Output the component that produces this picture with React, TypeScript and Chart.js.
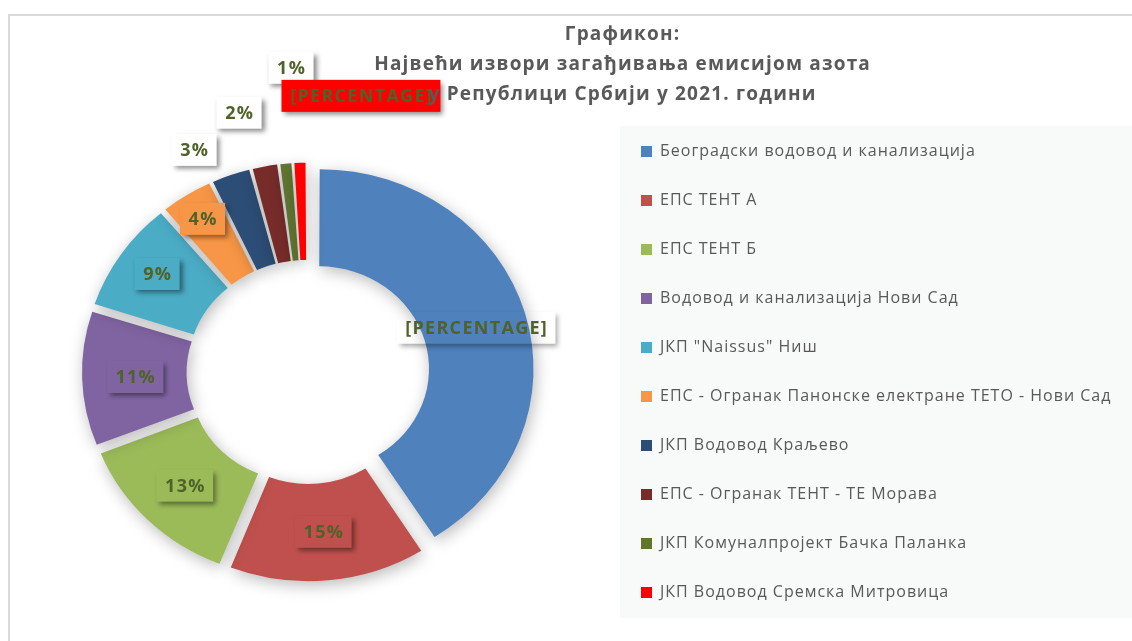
import React, { useEffect, useRef } from 'react';
import { Chart, registerables } from 'chart.js';

Chart.register(...registerables);

// ---- data ----
const CATEGORIES = [
  'Београдски водовод и канализација',
  'ЕПС ТЕНТ А',
  'ЕПС ТЕНТ Б',
  'Водовод и канализација Нови Сад',
  'ЈКП "Naissus" Ниш',
  'ЕПС - Огранак Панонске електране ТЕТО - Нови Сад',
  'ЈКП Водовод Краљево',
  'ЕПС - Огранак ТЕНТ - ТЕ Морава',
  'ЈКП Комуналпројект Бачка Паланка',
  'ЈКП Водовод Сремска Митровица',
];
const SHARES = [41, 15, 13, 11, 9, 4, 3, 2, 1, 1];
const LABEL_OVERRIDES: (string | null)[] = ['[PERCENTAGE]', null, null, null, null, null, null, null, null, '[PERCENTAGE]'];
const TITLE_LINES = ['Графикон:', 'Највећи извори загађивања емисијом азота', 'у Републици Србији у 2021. години'];

// ---- styles ----
const COLORS = ['#4F81BD', '#C0504D', '#9BBB59', '#8064A2', '#4BACC6', '#F79646', '#2C4D75', '#772C2A', '#5F7530', '#FF0000'];
const LABEL_BOX = ['clear', 'slice', 'slice', 'slice', 'slice', 'slice', 'white', 'white', 'white', 'slice'];
const LABEL_RADIUS = [0.84, 0.826, 0.827, 0.823, 0.877, 0.933, 1.264, 1.373, 1.567, 1.444];
const LABEL_NUDGE_DEG = [0.5, 0, 0, 0, 0.9, 0, -5.5, -2.9, 2.6, 12.1];
const EXPLODE = [18, 16, 16, 16, 16, 16, 16, 16, 16, 16];
const SQUASH = 0.93;
const TEXT_GREEN = '#4F6228';
const GREY = '#595959';
const W = 1132;
const H = 641;
const LEGEND_LEFT = 608;
const LEGEND_SPACING = '1px';

const total = SHARES.reduce((a, b) => a + b, 0);

function explodeOffset(i: number) {
  const circ = (SHARES[i] / total) * Math.PI * 2;
  const f = (2 - Math.sin(Math.min(Math.PI, circ))) / 4;
  return EXPLODE[i] / f;
}

const doughnutLook = {
  id: 'doughnutLook',
  beforeLayout(chart: any) {
    chart.ctx.letterSpacing = LEGEND_SPACING;
  },
  afterLayout(chart: any) {
    chart.ctx.letterSpacing = '0px';
  },
  beforeDraw(chart: any) {
    const ctx = chart.ctx;
    ctx.save();
    ctx.fillStyle = '#F8F9F9';
    ctx.fillRect(620, 126, W - 620, 492);
    ctx.restore();
    ctx.letterSpacing = LEGEND_SPACING;
  },
  beforeDatasetsDraw(chart: any) {
    const ctx = chart.ctx;
    ctx.letterSpacing = '0px';
    const a = chart.chartArea;
    const cx = (a.left + a.right) / 2;
    const cy = (a.top + a.bottom) / 2;
    ctx.save();
    ctx.translate(cx, cy);
    ctx.scale(1, SQUASH);
    ctx.translate(-cx, -cy);
    ctx.shadowColor = 'rgba(0,0,0,0.28)';
    ctx.shadowBlur = 16;
    ctx.shadowOffsetX = 2;
    ctx.shadowOffsetY = 4;
  },
  afterDatasetsDraw(chart: any) {
    const ctx = chart.ctx;
    ctx.restore();
    const meta = chart.getDatasetMeta(0);
    meta.data.forEach((arc: any, i: number) => {
      const p = arc.getProps(['x', 'y', 'startAngle', 'endAngle', 'outerRadius'], true);
      const mid = (p.startAngle + p.endAngle) / 2 + (LABEL_NUDGE_DEG[i] * Math.PI) / 180;
      const r = LABEL_RADIUS[i] * p.outerRadius;
      const lx = p.x + r * Math.cos(mid);
      const ly = p.y + r * Math.sin(mid) * SQUASH;
      const text = LABEL_OVERRIDES[i] ?? Math.round((SHARES[i] / total) * 100) + '%';
      ctx.save();
      ctx.font = 'bold 18px "Open Sans"';
      ctx.letterSpacing = '1.3px';
      const tw = ctx.measureText(text).width;
      const bw = tw + 16;
      const bh = 32;
      const bx = lx - bw / 2;
      const by = ly - bh / 2;
      ctx.shadowBlur = 5;
      ctx.shadowOffsetY = 3;
      if (LABEL_BOX[i] === 'clear') {
        ctx.beginPath();
        ctx.rect(0, 0, W, H);
        ctx.rect(bx, by, bw, bh);
        ctx.clip('evenodd');
        ctx.shadowColor = 'rgba(0,0,0,0.35)';
        ctx.shadowOffsetX = 3 + 5000;
        ctx.fillStyle = '#000';
        ctx.fillRect(bx - 5000, by, bw, bh);
      } else {
        ctx.shadowColor = 'rgba(0,0,0,0.45)';
        ctx.shadowOffsetX = 3;
        ctx.fillStyle = LABEL_BOX[i] === 'white' ? '#FFFFFF' : COLORS[i];
        ctx.fillRect(bx, by, bw, bh);
      }
      ctx.restore();
      ctx.save();
      ctx.font = 'bold 18px "Open Sans"';
      ctx.letterSpacing = '1.3px';
      ctx.fillStyle = TEXT_GREEN;
      ctx.textAlign = 'center';
      ctx.textBaseline = 'middle';
      ctx.fillText(text, lx + 0.65, ly + 1);
      ctx.restore();
    });
  },
  afterDraw(chart: any) {
    const ctx = chart.ctx;
    ctx.save();
    ctx.font = 'bold 19px "Open Sans"';
    ctx.letterSpacing = '1.2px';
    ctx.fillStyle = GREY;
    ctx.textAlign = 'center';
    ctx.textBaseline = 'middle';
    TITLE_LINES.forEach((line, k) => ctx.fillText(line, 622.6, 35 + k * 30));
    ctx.restore();
  },
};

export default function App() {
  const ref = useRef<HTMLCanvasElement>(null);
  useEffect(() => {
    if (!ref.current) return;
    const chart = new Chart(ref.current, {
      type: 'doughnut',
      data: {
        labels: CATEGORIES,
        datasets: [
          {
            data: SHARES,
            backgroundColor: COLORS,
            borderWidth: 0,
            offset: (c: any) => explodeOffset(c.dataIndex),
            hoverOffset: 0,
          } as any,
        ],
      },
      options: {
        responsive: false,
        animation: false,
        devicePixelRatio: 1,
        radius: 209,
        cutout: '50%',
        layout: { padding: { left: 6, top: 105, bottom: 2, right: 0 } },
        plugins: {
          tooltip: { enabled: false },
          title: { display: false },
          legend: {
            display: true,
            position: 'right',
            align: 'center',
            labels: {
              boxWidth: 11,
              boxHeight: 11,
              padding: 33,
              color: GREY,
              font: { family: '"Open Sans"', size: 16 },
            },
          },
        },
      } as any,
      plugins: [doughnutLook],
    });
    const lw = (chart as any).legend ? (chart as any).legend.width : 0;
    (chart.options as any).layout.padding.right = Math.max(0, W - LEGEND_LEFT - lw);
    chart.update();
    return () => chart.destroy();
  }, []);

  return (
    <div style={{ position: 'fixed', left: 0, top: 0, width: W, height: H, overflow: 'hidden', background: '#fff' }}>
      <div
        style={{
          position: 'absolute',
          left: 8,
          top: 14,
          width: 1300,
          height: 800,
          borderLeft: '2px solid #D9D9D9',
          borderTop: '2px solid #D9D9D9',
        }}
      />
      <canvas ref={ref} width={W} height={H} style={{ position: 'absolute', left: 0, top: 0, width: W, height: H }} />
    </div>
  );
}
